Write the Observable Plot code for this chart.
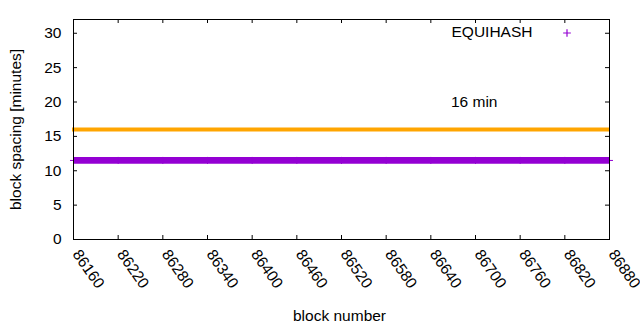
<!DOCTYPE html>
<html>
<head>
<meta charset="utf-8">
<script src="https://cdn.jsdelivr.net/npm/d3@7"></script>
<script src="https://cdn.jsdelivr.net/npm/@observablehq/plot@0.6"></script>
<style>
  html, body { margin: 0; padding: 0; background: #fff; }
  #chart svg { display: block; }
</style>
</head>
<body>
<div id="chart"></div>
<script>
// --- data ---
const xTicks = [86160, 86220, 86280, 86340, 86400, 86460, 86520, 86580, 86640, 86700, 86760, 86820, 86880];
const yTicks = [0, 5, 10, 15, 20, 25, 30];
// EQUIHASH block spacing samples (flat at ~11.5 minutes across the range)
const equiBlocks = [86160, 86220, 86280, 86340, 86400, 86460, 86520, 86580, 86640, 86700, 86760, 86820, 86880];
const equiSpacing = [11.5, 11.5, 11.5, 11.5, 11.5, 11.5, 11.5, 11.5, 11.5, 11.5, 11.5, 11.5, 11.5];
const targetMinutes = [16];
const seriesName = ["EQUIHASH"];
const targetLabel = [{text: "16 min", x: 86667, y: 20}];

const equi = equiBlocks.map((b, i) => ({block: b, spacing: equiSpacing[i]}));

const W = 640, H = 330;
const mL = 73, mR = 31, mT = 19, mB = 91;
const innerW = W - mL - mR, innerH = H - mT - mB;
const tick = 4;
const font = "'Liberation Sans', Arial, sans-serif";
const fs = 15.5;
const purple = "#9400D3", orange = "#FFA500";

const chart = Plot.plot({
  width: W,
  height: H,
  marginLeft: mL,
  marginRight: mR,
  marginTop: mT,
  marginBottom: mB,
  style: {fontFamily: font, fontSize: fs + "px", color: "black", background: "white"},
  x: {domain: [86160, 86880], axis: null},
  y: {domain: [0, 32], axis: null},
  marks: [
    // target line
    Plot.ruleY(targetMinutes, {y: d => d, stroke: orange, strokeWidth: 4, insetLeft: -1, insetRight: -1}),
    // EQUIHASH band of points
    Plot.line(equi, {x: "block", y: "spacing", stroke: purple, strokeWidth: 6.8, strokeLinecap: "butt"}),
    Plot.dot(equi, {x: "block", y: "spacing", symbol: "plus", r: 2.4, stroke: purple, strokeWidth: 1}),
    // frame
    Plot.frame({stroke: "black", strokeWidth: 1}),
    // inward ticks
    Plot.ruleX(xTicks, {x: d => d, insetTop: innerH - tick, stroke: "black"}),
    Plot.ruleX(xTicks, {x: d => d, insetBottom: innerH - tick, stroke: "black"}),
    Plot.ruleY(yTicks, {y: d => d, insetRight: innerW - tick, stroke: "black"}),
    Plot.ruleY(yTicks, {y: d => d, insetLeft: innerW - tick, stroke: "black"}),
    // y tick labels
    Plot.text(yTicks, {y: d => d, text: d => String(d), frameAnchor: "left", textAnchor: "end", dx: -12, fill: "black", fontSize: fs}),
    // x tick labels (rotated)
    Plot.text(xTicks, {x: d => d, text: d => String(d), frameAnchor: "bottom", textAnchor: "start", lineAnchor: "middle", rotate: 55, dx: 2.5, dy: 12, fill: "black", fontSize: fs}),
    // axis labels
    Plot.text(["block spacing [minutes]"], {frameAnchor: "left", rotate: -90, dx: -57, textAnchor: "middle", lineAnchor: "middle", fill: "black", fontSize: fs}),
    Plot.text(["block number"], {frameAnchor: "bottom", dy: 77, dx: -2, textAnchor: "middle", lineAnchor: "middle", fill: "black", fontSize: fs}),
    // key
    Plot.text(seriesName, {frameAnchor: "top-right", dx: -77, dy: 13, textAnchor: "end", lineAnchor: "middle", fill: "black", fontSize: fs}),
    Plot.dot(seriesName, {frameAnchor: "top-right", dx: -42.5, dy: 13.5, symbol: "plus", r: 2.6, stroke: purple, strokeWidth: 1.2}),
    // label for target line
    Plot.text(targetLabel, {x: "x", y: "y", text: "text", textAnchor: "start", lineAnchor: "middle", fill: "black", fontSize: fs})
  ]
});
document.getElementById("chart").appendChild(chart);
</script>
</body>
</html>
